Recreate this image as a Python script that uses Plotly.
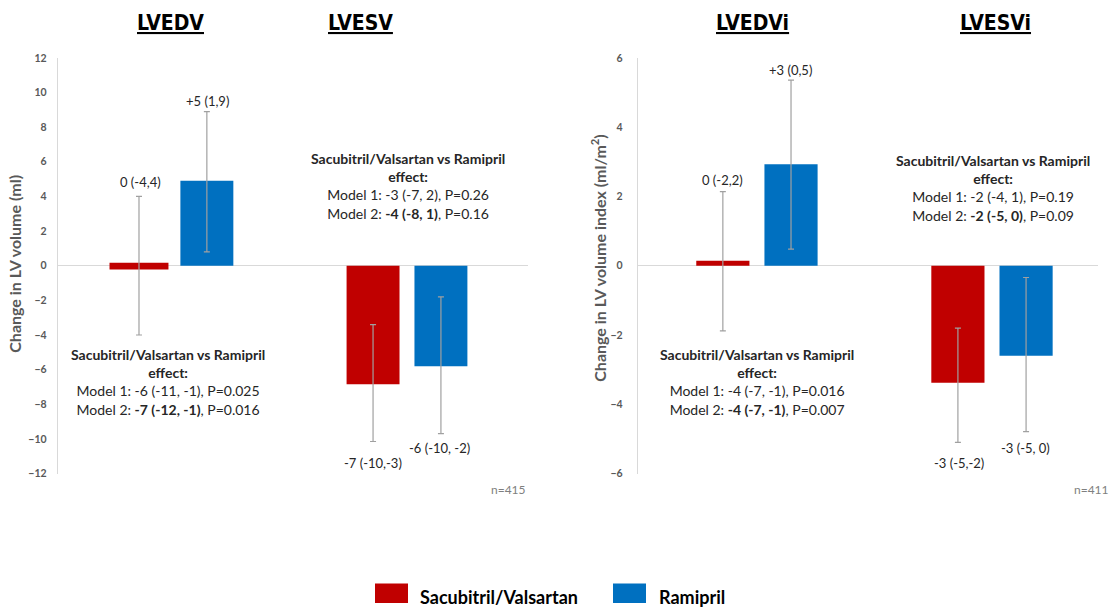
import plotly.graph_objects as go

W, H = 1115, 609

# ---- data ----
left_cats = ["LVEDV", "LVESV"]
right_cats = ["LVEDVi", "LVESVi"]

sv_left = [-0.05, -6.85]         # Sacubitril/Valsartan change (ml)
sv_left_hi = [4.0, -3.4]
sv_left_lo = [-4.0, -10.15]
ram_left = [4.9, -5.8]           # Ramipril change (ml)
ram_left_hi = [8.9, -1.8]
ram_left_lo = [0.8, -9.7]

sv_right = [0.14, -3.38]         # Sacubitril/Valsartan change (ml/m2)
sv_right_hi = [2.14, -1.8]
sv_right_lo = [-1.88, -5.1]
ram_right = [2.93, -2.6]         # Ramipril change (ml/m2)
ram_right_hi = [5.36, -0.34]
ram_right_lo = [0.48, -4.79]

left_ticks = [-12, -10, -8, -6, -4, -2, 0, 2, 4, 6, 8, 10, 12]
right_ticks = [-6, -4, -2, 0, 2, 4, 6]

RED = "#C00000"
BLUE = "#0070C0"
ERR = "#A0A0A0"
GREY_TXT = "#595959"
TXT = "#262626"
FONT = "Lato"
TITLE_FONT = "DejaVu Sans Condensed, Lato, sans-serif"

# the captured page shows the figure slightly squeezed vertically; compensate
VS, VO = 0.981, 5.1


def px(x):
    return x / W


def py(y):
    return 1 - ((y - VO) / VS) / H


def err(vals, hi, lo):
    up = [h - v for h, v in zip(hi, vals)]
    dn = [v - l for l, v in zip(lo, vals)]
    return dict(type="data", array=up, arrayminus=dn, symmetric=False,
                color=ERR, thickness=1.2, width=3)


fig = go.Figure()
fig.add_trace(go.Bar(x=left_cats, y=sv_left, name="Sacubitril/Valsartan",
                     marker=dict(color=RED, line=dict(color=RED, width=[6, 0])),
                     error_y=err(sv_left, sv_left_hi, sv_left_lo),
                     xaxis="x", yaxis="y", showlegend=False))
fig.add_trace(go.Bar(x=left_cats, y=ram_left, name="Ramipril",
                     marker=dict(color=BLUE, line=dict(width=0)),
                     error_y=err(ram_left, ram_left_hi, ram_left_lo),
                     xaxis="x", yaxis="y", showlegend=False))
fig.add_trace(go.Bar(x=right_cats, y=sv_right, name="Sacubitril/Valsartan",
                     marker=dict(color=RED, line=dict(width=0)),
                     error_y=err(sv_right, sv_right_hi, sv_right_lo),
                     xaxis="x2", yaxis="y2", showlegend=False))
fig.add_trace(go.Bar(x=right_cats, y=ram_right, name="Ramipril",
                     marker=dict(color=BLUE, line=dict(width=0)),
                     error_y=err(ram_right, ram_right_hi, ram_right_lo),
                     xaxis="x2", yaxis="y2", showlegend=False))

yd = [py(473), py(57)]
common_x = dict(showticklabels=False, showgrid=False, zeroline=False,
                showline=False, ticks="", fixedrange=True)
common_y = dict(showgrid=False, zeroline=True, zerolinecolor="#D9D9D9",
                zerolinewidth=1.3, showline=True, linecolor="#D9D9D9",
                linewidth=1.3, ticks="", ticklen=0,
                tickfont=dict(family=FONT, size=10.5, color=GREY_TXT, weight="bold"),
                fixedrange=True)

fig.update_layout(
    width=W, height=H,
    margin=dict(l=0, r=0, t=0, b=0),
    paper_bgcolor="white", plot_bgcolor="white",
    barmode="group", bargap=0.42, bargroupgap=0.22,
    xaxis=dict(domain=[px(58), px(528)], range=[-0.491, 1.517], anchor="y", **common_x),
    xaxis2=dict(domain=[px(638), px(1098)], range=[-0.506, 1.451], anchor="y2", **common_x),
    yaxis=dict(domain=yd, range=[-12, 12], tickvals=left_ticks, anchor="x",
               ticklabelstandoff=8, **common_y),
    yaxis2=dict(domain=yd, range=[-6, 6], tickvals=right_ticks, anchor="x2",
                ticklabelstandoff=12, **common_y),
    showlegend=False,
)

ann = []


def add(text, x, y, size=13, color=TXT, bold=False, family=FONT, under=False,
        angle=0):
    f = dict(family=family, size=size, color=color)
    if bold:
        f["weight"] = "bold"
    if under:
        f["lineposition"] = "under"
    ann.append(dict(text=text, x=px(x), y=py(y), xref="paper", yref="paper",
                    showarrow=False, xanchor="center", yanchor="middle",
                    font=f, align="center", textangle=angle))


# axis titles
add("Change in LV volume (ml)", 15, 263, size=16, color=GREY_TXT, bold=True, angle=-90)
add("Change in LV volume index (ml/m<sup>2</sup>)", 599, 258, size=16,
    color=GREY_TXT, bold=True, angle=-90)

# panel titles
for t, x in zip(["LVEDV", "LVESV", "LVEDVi", "LVESVi"], [170, 360, 752, 995]):
    add(t, x, 22, size=21, color="#000000", bold=True, family=TITLE_FONT, under=True)

# value labels
add("0 (-4,4)", 140, 181)
add("+5 (1,9)", 207, 100)
add("-7 (-10,-3)", 373, 462)
add("-6 (-10, -2)", 440, 447)
add("0 (-2,2)", 722, 179)
add("+3 (0,5)", 790, 69)
add("-3 (-5,-2)", 959, 462)
add("-3 (-5, 0)", 1025, 447)
add("n=415", 508, 489, size=12, color="#7F7F7F")
add("n=411", 1091, 489, size=12, color="#7F7F7F")


# effect boxes
def box(m1, m2):
    return ("<b>Sacubitril/Valsartan vs Ramipril</b><br><b>effect:</b><br>"
            "Model 1: " + m1 + "<br>Model 2: <b>" + m2[0] + "</b>" + m2[1])


add(box("-6 (-11, -1), P=0.025", ("-7 (-12, -1)", ", P=0.016")), 168, 381, size=14)
add(box("-3 (-7, 2), P=0.26", ("-4 (-8, 1)", ", P=0.16")), 408, 185, size=14)
add(box("-4 (-7, -1), P=0.016", ("-4 (-7, -1)", ", P=0.007")), 757, 381, size=14)
add(box("-2 (-4, 1), P=0.19", ("-2 (-5, 0)", ", P=0.09")), 993, 187, size=14)

# legend
legend_items = [("Sacubitril/Valsartan", RED, 375, 418), ("Ramipril", BLUE, 613, 657)]
shapes = []
for name, col, sx, tx in legend_items:
    shapes.append(dict(type="rect", xref="paper", yref="paper",
                       x0=px(sx), x1=px(sx + 33), y0=0, y1=py(583),
                       fillcolor=col, line=dict(width=0)))
    ann.append(dict(text=name, x=px(tx), y=py(597), xref="paper", yref="paper",
                    showarrow=False, xanchor="left", yanchor="middle",
                    font=dict(family=FONT, size=18, color="#000000", weight="bold")))

fig.update_layout(annotations=ann, shapes=shapes)

css_js = (
    "var s=document.createElement('style');"
    "s.textContent='html,body{margin:0!important;padding:0!important;"
    "overflow:hidden!important;height:609px!important;}"
    "body>div{height:609px;overflow:hidden;line-height:0;}';"
    "document.head.appendChild(s);"
)
fig.write_html("out.html", post_script=css_js,
               config={"displayModeBar": False, "staticPlot": True})
